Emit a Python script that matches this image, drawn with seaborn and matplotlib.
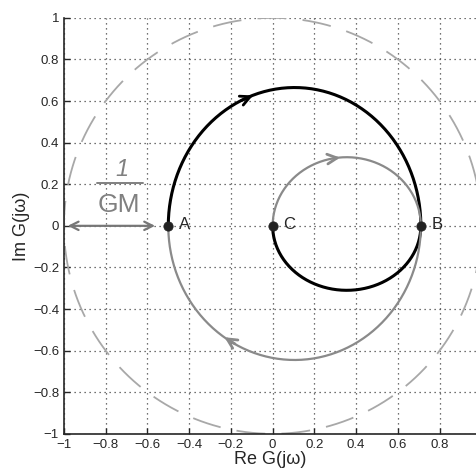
import numpy as np
import pandas as pd
import seaborn as sns
import matplotlib.pyplot as plt

# marked points on the real axis
point_labels = ["A", "C", "B"]
point_re = [-0.5, 0.0, 0.71]
point_im = [0.0, 0.0, 0.0]

# arcs: centre (re), half-width, half-height, start/end angle (deg)
arc_names = ["black_upper", "black_lower", "gray_upper", "gray_lower"]
arc_center = [0.105, 0.355, 0.355, 0.105]
arc_rx = [0.605, 0.355, 0.355, 0.605]
arc_ry = [0.665, 0.31, 0.33, 0.645]
arc_from = [180, 0, 180, 0]
arc_to = [0, -180, 0, -180]
arc_color = ["black", "black", "#8a8a8a", "#8a8a8a"]
arc_width = [2.2, 2.2, 1.6, 1.6]
# direction arrows: which arc and at what angle
arrow_arc = [0, 2, 3]
arrow_angle = [112, 97, -121]

unit_radius = 1.0
gm_distance = [-1.0, -0.5]

x_ticks = [-1, -0.8, -0.6, -0.4, -0.2, 0, 0.2, 0.4, 0.6, 0.8]
y_ticks = [-1, -0.8, -0.6, -0.4, -0.2, 0, 0.2, 0.4, 0.6, 0.8, 1]

sns.set_style("ticks")
plt.rcParams['font.family'] = ['Liberation Sans', 'DejaVu Sans']

fig = plt.figure(figsize=(4.77, 4.70), dpi=100)
ax = fig.add_axes([0.134, 0.077, 0.866, 0.885])

# dashed unit circle (hand drawn in the original)
t = np.linspace(0, 2 * np.pi, 400)
circ = pd.DataFrame({"re": unit_radius * np.cos(t), "im": unit_radius * np.sin(t)})
sns.lineplot(data=circ, x="re", y="im", sort=False, estimator=None, ax=ax,
             color="#a8a8a8", lw=1.3, linestyle=(0, (16, 9)))

def arc_df(i, a0, a1, n=200):
    tt = np.radians(np.linspace(a0, a1, n))
    return pd.DataFrame({"re": arc_center[i] + arc_rx[i] * np.cos(tt),
                         "im": arc_ry[i] * np.sin(tt)})

for i, name in enumerate(arc_names):
    sns.lineplot(data=arc_df(i, arc_from[i], arc_to[i]), x="re", y="im", sort=False,
                 estimator=None, ax=ax, color=arc_color[i], lw=arc_width[i])

# direction chevrons
for k, i in enumerate(arrow_arc):
    step = -4 if arc_from[i] > arc_to[i] else 4
    seg = arc_df(i, arrow_angle[k] - step, arrow_angle[k] + step, n=2)
    ax.annotate("", xy=(seg.re.iloc[1], seg.im.iloc[1]), xytext=(seg.re.iloc[0], seg.im.iloc[0]),
                arrowprops=dict(arrowstyle="->,head_length=0.7,head_width=0.35",
                                color=arc_color[i], lw=2.0))

# 1/GM distance
ax.annotate("", xy=(gm_distance[0] + 0.005, 0), xytext=(gm_distance[1] - 0.05, 0),
            arrowprops=dict(arrowstyle="<->,head_length=0.6,head_width=0.3",
                            color="#777777", lw=1.6))
ax.text(-0.72, 0.27, "1", fontsize=17, color="#808080", ha="center", va="center",
        style="italic")
ax.plot([-0.84, -0.62], [0.205, 0.205], color="#808080", lw=1.4)
ax.text(-0.735, 0.1, "GM", fontsize=19, color="#808080", ha="center", va="center")

sns.scatterplot(x=point_re, y=point_im, ax=ax, color="#222222", s=45, zorder=5,
                edgecolor="#222222")
for lab, xr, yi in zip(point_labels, point_re, point_im):
    ax.text(xr + 0.05, yi + 0.005, lab, fontsize=12, va="center", ha="left")

ax.set_xlim(-1, 0.979)
ax.set_ylim(-1, 1)
ax.set_xticks(x_ticks)
ax.set_yticks(y_ticks)
ax.set_xticklabels([f"{v:g}".replace("-", "\u2212") for v in x_ticks])
ax.set_yticklabels([f"{v:g}".replace("-", "\u2212") for v in y_ticks])
ax.tick_params(direction="in", length=4, labelsize=9.5, width=1)
ax.grid(True, linestyle=(0, (1, 3)), color="#444444", lw=0.9)
sns.despine(ax=ax)
ax.spines["left"].set_linewidth(1.2)
ax.spines["bottom"].set_linewidth(1.2)
ax.set_xlabel("Re G(j\u03c9)", fontsize=13, labelpad=0)
ax.set_ylabel("Im G(j\u03c9)", fontsize=13, labelpad=2)

fig.savefig("out.png", dpi=100)
